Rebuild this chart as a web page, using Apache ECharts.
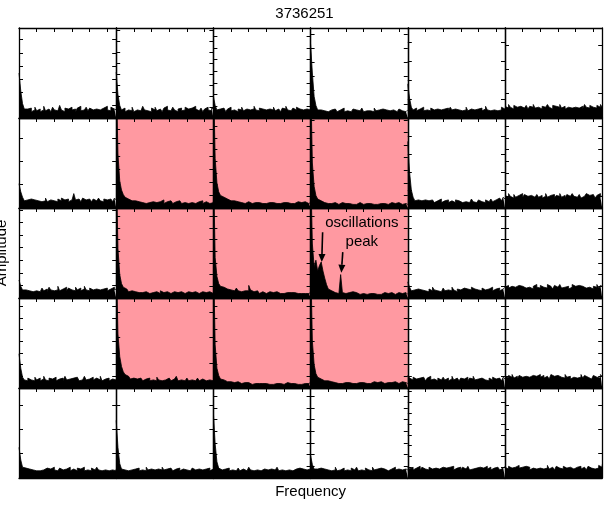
<!DOCTYPE html>
<html><head><meta charset="utf-8">
<script src="https://cdn.jsdelivr.net/npm/echarts@6/dist/echarts.min.js"></script>
<style>html,body{margin:0;padding:0;background:#fff}#c{width:609px;height:506px}</style>
</head><body><div id="c"></div>
<script>
const chartTitle = '3736251';
const xLabel = 'Frequency';
const yLabel = 'Amplitude';
const noteTop = 'oscillations';
const noteBottom = 'peak';

const freq = [0,0.1,0.2,0.3,0.4,0.5,0.6,0.7,0.8,0.9,1.0,1.1,1.2,1.3,1.4,1.5,1.6,1.7,1.8,1.9,2.0,2.1,2.2,2.3,2.4,2.5,2.6,2.7,2.8,2.9,3.0,3.1,3.2,3.3,3.4,3.5,3.6,3.7,3.8,3.9,4.0,4.1,4.2,4.3,4.4,4.5,4.6,4.7,4.8,4.9,5.0,5.1,5.2,5.3,5.4,5.5];

// row 1
const r1c1 = [50,30,16,10,10,8,11,7,9,12, 8,10,7,9,13,8,10,11,7,12, 9,8,10,14,9,7,11,10,8,12, 9,10,7,11,13,8,9,10,12,8, 11,9,7,10,12,9,8,11,10,13, 9,8,12,10,9,11];
const r1c2 = [51,26,14,9,11,7,9,10,8,12, 7,9,11,8,10,13,9,8,10,7, 11,9,12,8,10,9,7,11,13,9, 8,10,12,9,7,10,11,8,9,12, 10,8,11,9,13,10,8,9,11,7, 10,12,9,8,11,10];
const r1c3 = [24,14,9,10,8,11,9,7,10,12, 8,9,11,7,10,9,12,8,10,11, 9,7,10,13,9,8,11,10,12,9, 8,10,11,9,12,8,10,9,7,11, 10,13,9,8,10,11,9,12,10,8, 9,11,10,12,9,10];
const r1c4 = [82,50,24,14,9,9,7,8,10,7, 8,9,7,10,8,7,9,8,11,7, 8,9,7,8,10,9,7,8,9,11, 7,8,10,8,9,7,11,8,9,7, 10,8,9,7,8,10,9,8,7,9, 10,8,9,7,8,9];
const r1c5 = [38,22,12,9,11,8,10,9,12,8, 9,10,8,11,9,7,10,12,9,8, 10,9,11,8,12,9,10,8,9,11, 8,10,9,12,8,10,11,9,8,10, 9,11,8,10,13,9,8,10,9,11, 8,10,9,12,10,9];
const r1c6 = [13,11,15,12,10,14,12,11,13,15, 11,12,14,10,13,12,15,11,12,14, 10,13,12,11,15,12,10,14,13,11, 12,15,11,13,10,12,14,11,13,12, 14,11,12,13,10,15,12,11,14,12, 13,11,14,12,15,12];
// row 2
const r2c1 = [27,18,12,8,9,7,10,8,9,7, 8,10,7,9,8,11,7,9,10,8, 9,7,10,8,11,9,8,10,7,9, 8,16,9,10,8,7,11,9,8,10, 9,7,10,8,9,11,8,7,10,9, 8,10,9,7,11,9];
const r2c2 = [150,60,30,20,15,12,10,9,8,7, 8,6,7,9,6,8,5,7,6,8, 7,5,6,8,7,6,9,5,7,6, 8,6,5,7,6,8,7,5,6,7, 5,7,6,8,5,6,7,6,8,5, 7,6,5,7,6,8];
const r2c3 = [150,55,28,18,14,12,11,10,9,8, 7,8,6,7,5,6,7,5,6,7, 6,5,7,6,5,6,7,5,6,5, 7,6,5,6,7,5,6,5,7,6, 5,6,7,5,6,5,6,7,5,6, 5,7,6,5,6,5];
const r2c4 = [150,50,24,14,10,8,7,6,7,5, 6,5,4,6,5,4,5,6,4,5, 4,5,6,4,5,4,5,6,5,4, 6,5,4,5,6,4,5,4,6,5, 4,5,6,4,5,6,4,5,4,6, 5,4,6,5,4,5];
const r2c5 = [74,40,20,12,8,9,7,8,6,9, 7,8,6,9,7,6,8,7,10,6, 8,7,9,6,8,7,6,9,8,7, 6,8,7,9,6,8,10,7,6,8, 9,7,8,6,9,7,8,10,7,9, 8,11,9,8,12,10];
const r2c6 = [14,12,16,13,11,15,12,14,13,16, 12,15,13,11,14,16,12,13,15,12, 14,11,13,16,12,14,13,15,11,14, 13,16,12,14,11,15,13,12,16,13, 12,14,15,11,13,12,16,14,12,15, 13,11,14,16,12,14];
// row 3
const r3c1 = [20,13,9,9,7,8,10,7,9,8, 10,7,9,11,8,10,7,12,9,8, 10,9,13,8,10,9,12,8,11,9, 10,8,12,9,11,8,10,13,9,8, 11,9,8,10,12,9,8,10,9,11, 8,10,9,12,9,10];
const r3c2 = [150,55,26,16,12,10,9,7,8,6, 7,5,6,8,6,5,7,6,5,7, 6,5,7,6,5,8,6,5,7,6, 5,6,7,5,6,5,7,6,5,6, 7,5,6,5,7,6,5,6,7,5, 6,5,7,6,5,6];
const r3c3 = [150,45,24,16,13,12,11,10,12,9, 10,8,9,11,8,7,9,8,7,8, 14,9,7,6,8,6,5,7,6,5, 6,7,5,6,5,7,6,5,6,5, 7,6,5,6,5,6,7,5,6,5, 6,5,7,5,6,5];
const r3c4 = [150,60,35,42,30,36,40,30,22,15, 10,8,7,6,7,5,6,26,6,5, 5,6,5,7,5,6,5,4,6,5, 5,4,6,5,4,5,6,4,5,4, 5,6,4,5,4,6,5,4,5,6, 4,5,4,6,5,4];
const r3c5 = [18,12,8,9,7,10,8,9,11,8, 9,7,10,8,12,9,8,10,7,9, 11,8,9,10,8,12,9,7,10,9, 8,11,9,10,8,9,12,10,8,9, 10,8,11,9,8,10,9,12,8,10, 9,11,8,10,9,12];
const r3c6 = [12,14,11,13,15,12,10,14,12,13, 15,11,13,12,14,10,13,15,12,11, 14,12,13,11,15,13,12,10,14,12, 13,15,11,12,14,13,10,12,15,13, 11,14,12,13,15,11,13,12,14,10, 13,12,15,11,14,13];
// row 4
const r4c1 = [38,22,12,9,8,11,9,10,8,12, 9,11,8,10,13,9,8,11,10,9, 12,8,10,9,11,8,13,9,10,8, 11,9,12,10,8,9,11,13,9,10, 8,12,9,11,10,9,13,8,10,9, 11,8,10,12,9,8];
const r4c2 = [150,60,35,24,18,15,13,12,10,11, 9,10,8,11,9,8,10,9,11,8, 9,10,8,12,9,8,10,9,8,11, 9,8,10,9,13,8,9,10,8,9, 11,8,9,10,8,9,11,8,10,9, 8,10,9,11,8,9];
const r4c3 = [150,48,22,14,10,9,8,7,6,7, 5,6,5,7,6,5,4,6,5,6, 5,4,6,5,4,5,6,5,4,5, 6,4,5,4,6,5,4,5,6,4, 5,6,4,5,4,5,6,4,5,4, 6,5,4,5,6,5];
const r4c4 = [150,52,26,16,12,10,9,8,7,8, 6,7,5,6,7,5,6,5,7,6, 5,6,7,5,6,5,7,6,5,6, 7,5,6,5,6,7,5,6,5,7, 6,5,7,6,5,6,5,7,6,5, 6,7,5,6,5,6];
const r4c5 = [14,11,9,12,10,8,11,9,12,10, 8,11,13,9,10,12,8,11,9,10, 12,9,11,8,10,13,9,11,10,8, 11,10,9,12,8,11,10,13,9,10, 8,11,12,9,10,8,11,9,12,10, 9,11,10,8,12,10];
const r4c6 = [13,11,14,12,15,11,13,10,14,12, 11,13,15,12,10,14,12,13,11,15, 12,14,11,13,12,10,15,13,11,14, 13,12,14,11,15,12,13,10,12,14, 11,13,12,15,11,14,12,13,10,12, 14,12,13,11,15,13];
// row 5
const r5c1 = [34,20,12,11,9,10,8,9,11,8, 9,8,10,9,8,11,9,10,8,12, 9,8,10,11,9,8,10,9,12,8, 10,9,8,11,10,9,12,8,9,10, 8,11,9,10,12,9,8,10,9,11, 8,10,9,11,8,10];
const r5c2 = [64,34,16,10,9,11,8,10,9,8, 10,9,11,8,9,10,8,12,9,10, 8,9,11,10,8,9,12,9,10,8, 11,9,8,10,9,11,8,10,12,9, 10,8,9,11,9,8,10,12,9,8, 10,9,11,8,10,9];
const r5c3 = [72,38,18,11,9,8,10,9,11,8, 9,10,8,9,11,8,10,9,8,10, 12,9,8,10,9,11,8,9,10,8, 9,11,10,8,9,10,12,8,9,10, 8,10,9,11,8,9,10,8,11,9, 10,8,9,11,10,9];
const r5c4 = [25,15,10,10,8,11,9,10,8,9, 11,8,10,9,12,8,9,10,11,8, 9,10,8,11,9,10,12,8,9,10, 8,11,9,10,8,12,9,10,8,11, 9,10,11,8,9,10,8,12,9,10, 11,9,8,10,9,11];
const r5c5 = [13,10,12,9,11,10,13,9,12,10, 11,9,12,10,8,11,13,10,9,12, 10,11,9,12,10,13,9,11,10,12, 9,12,10,11,13,9,10,12,11,9, 12,10,11,9,13,10,12,9,11,10, 12,10,9,11,10,13];
const r5c6 = [12,10,13,11,9,12,10,14,11,12, 10,13,11,12,9,11,13,10,12,11, 13,10,12,11,14,10,12,11,9,13, 11,12,10,13,11,9,12,14,10,11, 12,11,13,10,12,11,9,13,11,12, 10,12,11,14,12,15];

const panels = [
  [r1c1, r1c2, r1c3, r1c4, r1c5, r1c6],
  [r2c1, r2c2, r2c3, r2c4, r2c5, r2c6],
  [r3c1, r3c2, r3c3, r3c4, r3c5, r3c6],
  [r4c1, r4c2, r4c3, r4c4, r4c5, r4c6],
  [r5c1, r5c2, r5c3, r5c4, r5c5, r5c6]
];
// highlighted (pink) panels
const highlighted = [
  [0,0,0,0,0,0],
  [0,1,1,1,0,0],
  [0,1,1,1,0,0],
  [0,1,1,1,0,0],
  [0,0,0,0,0,0]
];

// --- styling / layout ---
const yTickStep = [
  [14.5, 12.2, 13, 15.5, 21, 27],
  [26, 14.5, 13, 14, 20, 13],
  [14, 13, 13, 13, 13, 13],
  [13, 28, 13, 13, 13, 13],
  [27, 27, 13, 13, 12, 27]
];
const FONT = '"Liberation Sans", Arial, Helvetica, sans-serif';
const gLeft = 19, gTop = 28, cellW = 97.2, cellH = 90;
const PINK = '#ff99a1';

const chart = echarts.init(document.getElementById('c'), null, {renderer: 'canvas'});
const grid = [], xAxis = [], yAxis = [], series = [];
const lineAxis = {show: true, onZero: false, lineStyle: {color: '#000', width: 1.3}};
panels.forEach((row, r) => {
  row.forEach((vals, c) => {
    const g = grid.length;
    const pink = !!highlighted[r][c];
    grid.push({left: gLeft + c * cellW, top: gTop + r * cellH, width: cellW, height: cellH,
      show: pink, backgroundColor: pink ? PINK : 'transparent', borderWidth: 0});
    xAxis.push({gridIndex: g, type: 'value', position: 'top', min: 0, max: 5.5, interval: 1,
      axisLine: lineAxis, axisTick: {show: true, inside: true, length: 4, lineStyle: {color: '#000', width: 1}},
      axisLabel: {show: false}, splitLine: {show: false}});
    xAxis.push({gridIndex: g, type: 'value', position: 'bottom', min: 0, max: 5.5, interval: 1,
      axisLine: lineAxis, axisTick: {show: false}, axisLabel: {show: false}, splitLine: {show: false}});
    const step = yTickStep[r][c];
    ['left', 'right'].forEach(p => {
      yAxis.push({gridIndex: g, type: 'value', position: p, min: 0, max: 100, interval: step,
        axisLine: lineAxis, axisTick: {show: true, inside: true, length: 4, lineStyle: {color: '#000', width: 1}},
        axisLabel: {show: false}, splitLine: {show: false}});
    });
    series.push({type: 'line', step: 'end', xAxisIndex: 2 * g + 1, yAxisIndex: 2 * g, clip: true, silent: true,
      showSymbol: false, symbol: 'none', animation: false,
      data: freq.map((f, i) => [f, vals[i]]),
      lineStyle: {color: '#000', width: 0.8}, areaStyle: {color: '#000', opacity: 1}});
  });
});

chart.setOption({
  animation: false,
  backgroundColor: '#fff',
  title: {text: chartTitle, left: 'center', top: 1,
    textStyle: {fontFamily: FONT, fontSize: 15, fontWeight: 'normal', color: '#000'}},
  grid, xAxis, yAxis, series
});

// annotations, placed in data coordinates of the oscillation panel (row 3, col 4)
const annoPanel = 2 * 6 + 3;
const toPx = (pt) => chart.convertToPixel({xAxisIndex: 2 * annoPanel + 1, yAxisIndex: 2 * annoPanel}, pt);
const arrows = [
  {from: [0.68, 73], to: [0.63, 40]},
  {from: [1.82, 51], to: [1.74, 28]}
];
const notes = [
  {text: noteTop, at: [2.9, 83]},
  {text: noteBottom, at: [2.9, 62]}
];
const graphic = [];
const gridCx = gLeft + 3 * cellW;
graphic.push({type: 'text', x: gridCx, y: 492, silent: true,
  style: {text: xLabel, font: '15px ' + FONT, fill: '#000', textAlign: 'center', textVerticalAlign: 'middle'}});
graphic.push({type: 'text', x: 2, y: gTop + 2.5 * cellH, rotation: Math.PI / 2, silent: true,
  style: {text: yLabel, font: '15px ' + FONT, fill: '#000', textAlign: 'center', textVerticalAlign: 'middle'}});
notes.forEach(n => {
  const p = toPx(n.at);
  graphic.push({type: 'text', x: p[0], y: p[1], silent: true, z: 100,
    style: {text: n.text, font: '15px ' + FONT, fill: '#000', textAlign: 'center', textVerticalAlign: 'middle'}});
});
arrows.forEach(a => {
  const p0 = toPx(a.from), p1 = toPx(a.to);
  const dx = p1[0] - p0[0], dy = p1[1] - p0[1], len = Math.hypot(dx, dy);
  const ux = dx / len, uy = dy / len, hl = 8, hw = 3.5;
  const bx = p1[0] - ux * hl, by = p1[1] - uy * hl;
  graphic.push({type: 'line', silent: true, z: 100,
    shape: {x1: p0[0], y1: p0[1], x2: bx, y2: by}, style: {stroke: '#000', lineWidth: 1.6}});
  graphic.push({type: 'polygon', silent: true, z: 100,
    shape: {points: [[p1[0], p1[1]], [bx - uy * hw, by + ux * hw], [bx + uy * hw, by - ux * hw]]},
    style: {fill: '#000'}});
});
chart.setOption({graphic});
</script>
</body></html>
